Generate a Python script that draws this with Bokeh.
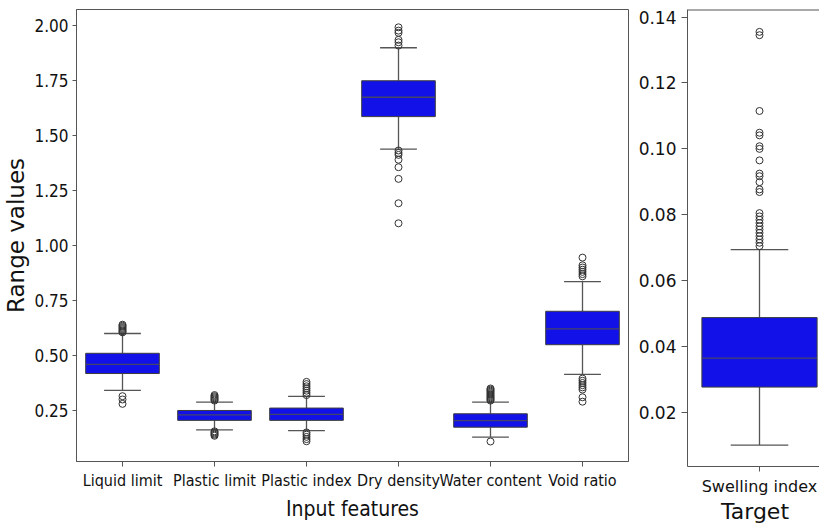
from bokeh.plotting import figure
from bokeh.layouts import row
from bokeh.models import FixedTicker, Range1d, Span, PrintfTickFormatter
from bokeh.embed import file_html
from bokeh.resources import INLINE

# ---------------- data ----------------
features = ["Liquid limit", "Plastic limit", "Plastic index", "Dry density", "Water content", "Void ratio"]
q1 = [0.418, 0.205, 0.205, 1.586, 0.174, 0.549]
median = [0.460, 0.230, 0.232, 1.674, 0.204, 0.621]
q3 = [0.510, 0.250, 0.261, 1.749, 0.235, 0.701]
whisker_low = [0.341, 0.162, 0.158, 1.438, 0.129, 0.414]
whisker_high = [0.600, 0.288, 0.314, 1.899, 0.288, 0.836]
outliers = [
    [0.605, 0.61, 0.615, 0.62, 0.625, 0.63, 0.635, 0.64, 0.315, 0.30, 0.28],
    [0.295, 0.30, 0.305, 0.31, 0.315, 0.32, 0.155, 0.15, 0.145, 0.14, 0.135],
    [0.32, 0.33, 0.34, 0.35, 0.36, 0.37, 0.38, 0.15, 0.14, 0.13, 0.12, 0.11],
    [1.992, 1.977, 1.967, 1.935, 1.924, 1.909, 1.432, 1.421, 1.412, 1.39, 1.356, 1.303, 1.192, 1.101],
    [0.295, 0.30, 0.305, 0.31, 0.315, 0.32, 0.325, 0.33, 0.335, 0.34, 0.345, 0.35, 0.109],
    [0.945, 0.91, 0.90, 0.89, 0.88, 0.87, 0.86, 0.395, 0.385, 0.375, 0.365, 0.355, 0.345, 0.31, 0.29],
]
left_ticks = [0.25, 0.50, 0.75, 1.00, 1.25, 1.50, 1.75, 2.00]

target = ["Swelling index"]
t_q1 = [0.0277]
t_median = [0.0365]
t_q3 = [0.0488]
t_whisker_low = [0.0101]
t_whisker_high = [0.0694]
t_outliers = [[0.1355, 0.1345, 0.1115, 0.1049, 0.1041, 0.1008, 0.1000, 0.0965, 0.0925, 0.0917,
               0.0899, 0.0877, 0.0869, 0.0805, 0.0795, 0.0785, 0.0775, 0.0765, 0.0755, 0.0745,
               0.0735, 0.0725, 0.0715, 0.0705]]
right_ticks = [0.02, 0.04, 0.06, 0.08, 0.10, 0.12, 0.14]

# ---------------- style ----------------
BOX_FILL = "#1212e8"
EDGE = "#3c3c3c"
AXIS = "#555555"
COND = "'DejaVu Sans Condensed', 'Liberation Sans Narrow', 'DejaVu Sans', sans-serif"
NORMAL = "DejaVu Sans"


def draw_boxes(p, n, lo, q1_, med, q3_, hi, outs):
    xs = list(range(n))
    p.segment(x0=xs, y0=lo, x1=xs, y1=q1_, line_color=AXIS, line_width=1.3)
    p.segment(x0=xs, y0=q3_, x1=xs, y1=hi, line_color=AXIS, line_width=1.3)
    p.segment(x0=[x - 0.2 for x in xs], y0=lo, x1=[x + 0.2 for x in xs], y1=lo, line_color=AXIS, line_width=1.3)
    p.segment(x0=[x - 0.2 for x in xs], y0=hi, x1=[x + 0.2 for x in xs], y1=hi, line_color=AXIS, line_width=1.3)
    p.vbar(x=xs, width=0.8, bottom=q1_, top=q3_, fill_color=BOX_FILL, line_color=EDGE, line_width=1)
    p.segment(x0=[x - 0.4 for x in xs], y0=med, x1=[x + 0.4 for x in xs], y1=med, line_color="#444466", line_width=1.3)
    ox, oy = [], []
    for i, vals in enumerate(outs):
        ox += [i] * len(vals)
        oy += vals
    p.scatter(x=ox, y=oy, marker="circle", size=7, fill_color=None, line_color="#333333", line_width=1)


def style_axes(p, font):
    for ax in (p.below[0], p.left[0]):
        ax.axis_line_color = AXIS
        ax.major_tick_line_color = AXIS
        ax.minor_tick_line_color = None
        ax.major_label_text_color = "#111111"
        ax.major_label_text_font = font
        ax.axis_label_text_font_style = "normal"
        ax.axis_label_text_color = "#111111"
        ax.major_tick_in = 0
    p.xgrid.grid_line_color = None
    p.ygrid.grid_line_color = None


# ---------------- left panel ----------------
p1 = figure(frame_width=552, frame_height=452, output_backend="svg", toolbar_location=None,
            x_range=Range1d(-0.5, 5.5), y_range=Range1d(0.018, 2.073),
            min_border_left=73, min_border_top=9, min_border_bottom=64, min_border_right=5)
draw_boxes(p1, len(features), whisker_low, q1, median, q3, whisker_high, outliers)
style_axes(p1, COND)
p1.outline_line_color = AXIS
xa = p1.below[0]
xa.ticker = FixedTicker(ticks=list(range(len(features))))
xa.major_label_overrides = {i: f for i, f in enumerate(features)}
xa.major_label_text_font_size = "16px"
xa.major_tick_out = 5
xa.major_label_standoff = 4
xa.axis_label = "Input features"
xa.axis_label_text_font = COND
xa.axis_label_text_font_size = "21px"
xa.axis_label_standoff = 4
ya = p1.left[0]
ya.ticker = FixedTicker(ticks=left_ticks)
ya.formatter = PrintfTickFormatter(format="%.2f")
ya.major_label_text_font_size = "17px"
ya.major_tick_out = 4
ya.major_label_standoff = 4
ya.axis_label = "Range values"
ya.axis_label_text_font = NORMAL
ya.axis_label_text_font_size = "23px"
ya.axis_label_standoff = 2

# ---------------- right panel ----------------
p2 = figure(frame_width=135, frame_height=457, output_backend="svg", toolbar_location=None,
            x_range=Range1d(-0.5, 0.4375), y_range=Range1d(0.0036, 0.1423),
            min_border_left=54, min_border_top=9, min_border_bottom=59, min_border_right=0)
draw_boxes(p2, len(target), t_whisker_low, t_q1, t_median, t_q3, t_whisker_high, t_outliers)
style_axes(p2, NORMAL)
p2.outline_line_color = None
p2.add_layout(Span(location=0.1423, dimension="width", line_color=AXIS, line_width=2))
xb = p2.below[0]
xb.ticker = FixedTicker(ticks=[0])
xb.major_label_overrides = {0: target[0]}
xb.major_label_text_font_size = "16px"
xb.major_tick_out = 5
xb.major_label_standoff = 5
xb.axis_label = "Target"
xb.axis_label_text_font = NORMAL
xb.axis_label_text_font_size = "22px"
xb.axis_label_standoff = 0
yb = p2.left[0]
yb.ticker = FixedTicker(ticks=right_ticks)
yb.formatter = PrintfTickFormatter(format="%.2f")
yb.major_label_text_font_size = "17px"
yb.major_tick_out = 6
yb.major_label_standoff = 5

layout = row(p1, p2)
open("out.html", "w").write(file_html(layout, INLINE))
